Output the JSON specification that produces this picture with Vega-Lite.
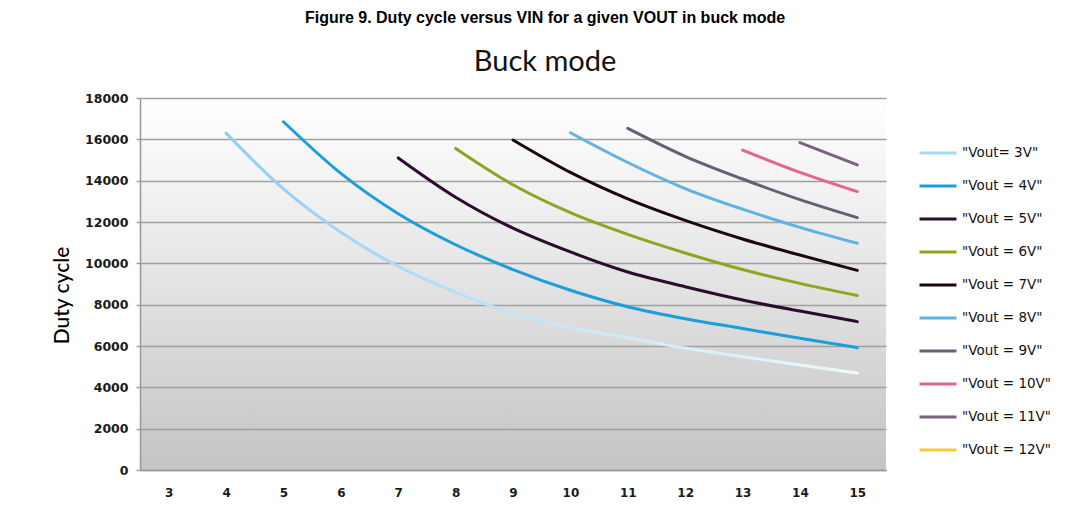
{
  "$schema": "https://vega.github.io/schema/vega-lite/v6.json",
  "autosize": "none",
  "width": 746,
  "height": 372,
  "padding": {"left": 140, "top": 98, "right": 196, "bottom": 52},
  "background": "#ffffff",
  "title": {
    "text": "Figure 9. Duty cycle versus VIN for a given VOUT in buck mode",
    "subtitle": "Buck mode",
    "anchor": "middle",
    "frame": "group",
    "dx": 32,
    "font": "Liberation Sans",
    "fontWeight": "bold",
    "fontSize": 16,
    "color": "#000000",
    "subtitleFont": "Lato",
    "subtitleFontSize": 29,
    "subtitleColor": "#111111",
    "subtitlePadding": 22,
    "offset": 15
  },
  "data": {"values": [
    {"series": "\"Vout= 3V\"", "vin": 4, "duty": 16300},
    {"series": "\"Vout= 3V\"", "vin": 5, "duty": 13600},
    {"series": "\"Vout= 3V\"", "vin": 6, "duty": 11500},
    {"series": "\"Vout= 3V\"", "vin": 7, "duty": 9850},
    {"series": "\"Vout= 3V\"", "vin": 8, "duty": 8600},
    {"series": "\"Vout= 3V\"", "vin": 9, "duty": 7580},
    {"series": "\"Vout= 3V\"", "vin": 10, "duty": 6880},
    {"series": "\"Vout= 3V\"", "vin": 11, "duty": 6400},
    {"series": "\"Vout= 3V\"", "vin": 12, "duty": 5900},
    {"series": "\"Vout= 3V\"", "vin": 13, "duty": 5480},
    {"series": "\"Vout= 3V\"", "vin": 14, "duty": 5080},
    {"series": "\"Vout= 3V\"", "vin": 15, "duty": 4690},
    {"series": "\"Vout = 4V\"", "vin": 5, "duty": 16850},
    {"series": "\"Vout = 4V\"", "vin": 6, "duty": 14350},
    {"series": "\"Vout = 4V\"", "vin": 7, "duty": 12400},
    {"series": "\"Vout = 4V\"", "vin": 8, "duty": 10900},
    {"series": "\"Vout = 4V\"", "vin": 9, "duty": 9700},
    {"series": "\"Vout = 4V\"", "vin": 10, "duty": 8700},
    {"series": "\"Vout = 4V\"", "vin": 11, "duty": 7900},
    {"series": "\"Vout = 4V\"", "vin": 12, "duty": 7320},
    {"series": "\"Vout = 4V\"", "vin": 13, "duty": 6850},
    {"series": "\"Vout = 4V\"", "vin": 14, "duty": 6370},
    {"series": "\"Vout = 4V\"", "vin": 15, "duty": 5920},
    {"series": "\"Vout = 5V\"", "vin": 7, "duty": 15100},
    {"series": "\"Vout = 5V\"", "vin": 8, "duty": 13200},
    {"series": "\"Vout = 5V\"", "vin": 9, "duty": 11700},
    {"series": "\"Vout = 5V\"", "vin": 10, "duty": 10550},
    {"series": "\"Vout = 5V\"", "vin": 11, "duty": 9580},
    {"series": "\"Vout = 5V\"", "vin": 12, "duty": 8870},
    {"series": "\"Vout = 5V\"", "vin": 13, "duty": 8230},
    {"series": "\"Vout = 5V\"", "vin": 14, "duty": 7690},
    {"series": "\"Vout = 5V\"", "vin": 15, "duty": 7180},
    {"series": "\"Vout = 6V\"", "vin": 8, "duty": 15560},
    {"series": "\"Vout = 6V\"", "vin": 9, "duty": 13800},
    {"series": "\"Vout = 6V\"", "vin": 10, "duty": 12450},
    {"series": "\"Vout = 6V\"", "vin": 11, "duty": 11400},
    {"series": "\"Vout = 6V\"", "vin": 12, "duty": 10500},
    {"series": "\"Vout = 6V\"", "vin": 13, "duty": 9700},
    {"series": "\"Vout = 6V\"", "vin": 14, "duty": 9030},
    {"series": "\"Vout = 6V\"", "vin": 15, "duty": 8440},
    {"series": "\"Vout = 7V\"", "vin": 9, "duty": 15970},
    {"series": "\"Vout = 7V\"", "vin": 10, "duty": 14400},
    {"series": "\"Vout = 7V\"", "vin": 11, "duty": 13120},
    {"series": "\"Vout = 7V\"", "vin": 12, "duty": 12080},
    {"series": "\"Vout = 7V\"", "vin": 13, "duty": 11180},
    {"series": "\"Vout = 7V\"", "vin": 14, "duty": 10400},
    {"series": "\"Vout = 7V\"", "vin": 15, "duty": 9660},
    {"series": "\"Vout = 8V\"", "vin": 10, "duty": 16320},
    {"series": "\"Vout = 8V\"", "vin": 11, "duty": 14880},
    {"series": "\"Vout = 8V\"", "vin": 12, "duty": 13620},
    {"series": "\"Vout = 8V\"", "vin": 13, "duty": 12620},
    {"series": "\"Vout = 8V\"", "vin": 14, "duty": 11740},
    {"series": "\"Vout = 8V\"", "vin": 15, "duty": 10970},
    {"series": "\"Vout = 9V\"", "vin": 11, "duty": 16530},
    {"series": "\"Vout = 9V\"", "vin": 12, "duty": 15180},
    {"series": "\"Vout = 9V\"", "vin": 13, "duty": 14080},
    {"series": "\"Vout = 9V\"", "vin": 14, "duty": 13080},
    {"series": "\"Vout = 9V\"", "vin": 15, "duty": 12210},
    {"series": "\"Vout = 10V\"", "vin": 13, "duty": 15480},
    {"series": "\"Vout = 10V\"", "vin": 14, "duty": 14400},
    {"series": "\"Vout = 10V\"", "vin": 15, "duty": 13470},
    {"series": "\"Vout = 11V\"", "vin": 14, "duty": 15840},
    {"series": "\"Vout = 11V\"", "vin": 15, "duty": 14760}
  ]},
  "encoding": {
    "x": {
      "field": "vin", "type": "quantitative",
      "scale": {"domain": [2.5, 15.5], "nice": false, "zero": false},
      "axis": {
        "title": null,
        "values": [3, 4, 5, 6, 7, 8, 9, 10, 11, 12, 13, 14, 15],
        "grid": false, "ticks": false,
        "labelPadding": 17,
        "labelFont": "DejaVu Sans", "labelFontSize": 12, "labelFontWeight": "bold", "labelColor": "#1a1a1a",
        "domainColor": "#999999", "domainWidth": 1.5
      }
    },
    "y": {
      "field": "duty", "type": "quantitative",
      "scale": {"domain": [0, 18000], "nice": false},
      "axis": {
        "title": "Duty cycle",
        "titleFont": "Lato", "titleFontSize": 21, "titleFontWeight": 500, "titleColor": "#000000",
        "titleX": -78, "titleY": 197, "titleAngle": -90, "titleAlign": "center", "titleBaseline": "middle",
        "values": [0, 2000, 4000, 6000, 8000, 10000, 12000, 14000, 16000, 18000],
        "format": "d",
        "grid": true, "gridColor": "#a0a0a0", "gridWidth": 1.5,
        "tickSize": 4, "tickColor": "#a0a0a0", "tickWidth": 1.5,
        "labelPadding": 8,
        "labelFont": "DejaVu Sans", "labelFontSize": 12.5, "labelFontWeight": "bold", "labelColor": "#1a1a1a",
        "domainColor": "#999999", "domainWidth": 1.5
      }
    }
  },
  "layer": [
    {
      "transform": [{"filter": "datum.series === '\"Vout= 3V\"'"}],
      "mark": {
        "type": "line", "interpolate": "monotone", "strokeWidth": 3, "strokeCap": "round",
        "stroke": {"gradient": "linear", "x1": 0, "y1": 0, "x2": 1, "y2": 0,
          "stops": [{"offset": 0, "color": "#8ecdf2"}, {"offset": 0.5, "color": "#c6e6f8"}, {"offset": 1, "color": "#eef8fd"}]}
      }
    },
    {
      "transform": [{"filter": "datum.series !== '\"Vout= 3V\"'"}],
      "mark": {"type": "line", "interpolate": "monotone", "strokeWidth": 3, "strokeCap": "round"},
      "encoding": {
        "color": {
          "field": "series", "type": "nominal",
          "scale": {
            "domain": ["\"Vout= 3V\"", "\"Vout = 4V\"", "\"Vout = 5V\"", "\"Vout = 6V\"", "\"Vout = 7V\"", "\"Vout = 8V\"", "\"Vout = 9V\"", "\"Vout = 10V\"", "\"Vout = 11V\"", "\"Vout = 12V\""],
            "range": ["#a6d9f5", "#1b9fdb", "#2c0b2e", "#8da51f", "#1c0808", "#5fb3e3", "#5f6373", "#e2658f", "#7b6280", "#f6c943"]
          },
          "legend": {
            "title": null,
            "orient": "none",
            "legendX": 778,
            "legendY": 35,
            "symbolType": "stroke",
            "symbolSize": 1369,
            "symbolStrokeWidth": 3,
            "labelOffset": 4,
            "rowPadding": 6,
            "labelFont": "DejaVu Sans",
            "labelFontSize": 13.5,
            "labelColor": "#111111",
            "labelLimit": 200
          }
        }
      }
    }
  ],
  "config": {
    "view": {
      "stroke": null,
      "fill": {"gradient": "linear", "x1": 0, "y1": 0, "x2": 0, "y2": 1,
        "stops": [{"offset": 0, "color": "#ffffff"}, {"offset": 0.35, "color": "#ececec"}, {"offset": 1, "color": "#c4c4c4"}]}
    }
  }
}
